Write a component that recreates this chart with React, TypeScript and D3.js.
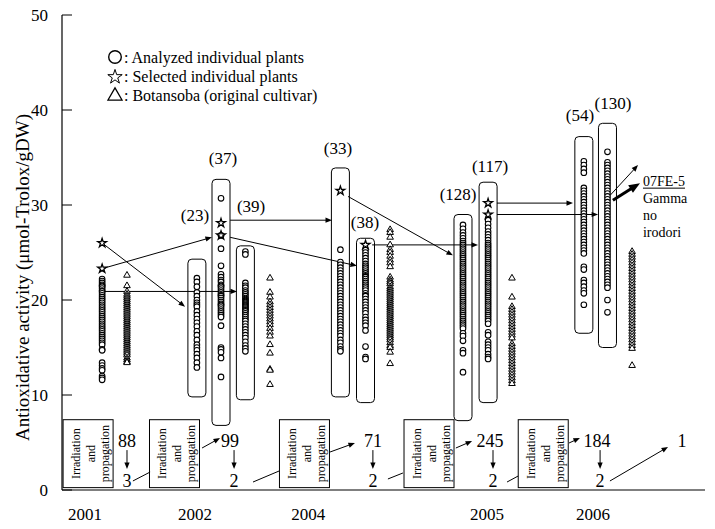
import React, { useEffect, useRef } from 'react';
import * as d3 from 'd3';

const FONT = "'Liberation Serif', 'Times New Roman', Times, 'DejaVu Serif', serif";

// axis
const yTicks = [0, 10, 20, 30, 40, 50];
const years = ['2001', '2002', '2004', '2005', '2006'];
const yearPos = [0.93, 5.4, 10.0, 17.27, 21.57];

// analyzed individual plants (circles), one array per column
const an2001 = [22.2, 22.0, 21.8, 21.6, 21.5, 21.4, 21.2, 21.0, 20.9, 20.7, 20.5, 20.3, 20.1, 19.9, 19.7, 19.5, 19.3, 19.1,
  18.9, 18.7, 18.5, 18.3, 18.1, 17.9, 17.7, 17.5, 17.3, 17.1, 16.9, 16.7, 16.5, 16.3, 16.1, 15.9, 15.7, 15.5, 15.3,
  14.8, 14.7, 13.4, 13.1, 12.8, 12.6, 12.0, 11.8, 11.6];
const an2002a = [22.3, 21.9, 21.4, 20.8, 20.4, 20.0, 19.7, 19.5, 19.3, 18.8, 18.4, 18.0, 17.6, 17.2, 16.7, 16.3, 15.8,
  15.3, 15.0, 14.7, 14.3, 13.9, 13.4, 12.9];
const an2002b = [30.7, 26.8, 25.4, 23.6, 22.7, 22.4, 22.1, 21.9, 21.6, 21.5, 21.4, 21.2, 21.0, 20.8, 20.6, 20.5, 20.4,
  20.2, 20.0, 19.8, 19.6, 19.5, 19.4, 19.2, 19.0, 18.8, 18.6, 18.4, 18.2, 17.3, 15.0, 14.8, 14.5, 13.9, 11.9];
const an2002c = [25.1, 24.8, 21.8, 21.5, 21.3, 21.0, 20.8, 20.6, 20.4, 20.2, 20.1, 20.0, 19.9, 19.8, 19.7, 19.6, 19.5,
  19.4, 19.3, 19.2, 19.1, 19.0, 18.9, 18.8, 18.6, 18.4, 18.2, 18.0, 17.8, 17.5, 17.2, 16.9, 16.6, 16.3, 16.0, 15.6,
  15.2, 14.9, 14.6];
const an2004a = [25.3, 24.0, 23.7, 23.4, 23.1, 22.8, 22.5, 22.2, 21.9, 21.6, 21.3, 21.0, 20.7, 20.4, 20.1, 19.8, 19.5,
  19.2, 18.9, 18.6, 18.3, 18.0, 17.7, 17.4, 17.1, 16.8, 16.5, 16.2, 15.8, 15.5, 15.1, 14.8, 14.6];
const an2004b = [25.3, 25.0, 24.7, 24.4, 24.1, 23.8, 23.6, 23.4, 23.2, 23.0, 22.8, 22.6, 22.5, 22.4, 22.2, 22.0, 21.8,
  21.6, 21.4, 21.2, 21.0, 20.7, 20.5, 20.4, 20.1, 19.8, 19.5, 19.2, 18.9, 18.6, 18.2, 17.9, 17.6, 17.3, 16.8, 15.1,
  14.0, 13.8];
const an2005a = [27.9, 27.5, 27.1, 26.8, 26.5, 26.2, 26.0, 25.8, 25.6, 25.4, 25.2, 25.0, 24.8, 24.6, 24.4, 24.2, 24.0,
  23.8, 23.6, 23.4, 23.2, 23.0, 22.8, 22.6, 22.4, 22.2, 22.0, 21.8, 21.6, 21.4, 21.2, 21.0, 20.8, 20.6, 20.4, 20.2,
  20.0, 19.8, 19.6, 19.4, 19.2, 19.0, 18.8, 18.6, 18.4, 18.2, 18.0, 17.8, 17.6, 17.4, 17.2, 17.0, 16.5, 16.2, 15.7,
  14.7, 14.4, 12.4];
const an2005b = [28.4, 28.0, 27.6, 27.2, 26.9, 26.6, 26.3, 26.0, 25.8, 25.6, 25.4, 25.2, 25.0, 24.8, 24.6, 24.4, 24.2,
  24.0, 23.8, 23.6, 23.4, 23.2, 23.0, 22.8, 22.6, 22.4, 22.2, 22.0, 21.8, 21.6, 21.4, 21.2, 21.0, 20.8, 20.6, 20.4,
  20.2, 20.0, 19.8, 19.6, 19.4, 19.2, 19.0, 18.8, 18.6, 18.4, 18.2, 18.0, 17.8, 17.5, 16.6, 16.3, 15.6, 15.3, 15.0,
  14.7, 14.3, 14.0, 13.8];
const an2006a = [34.6, 34.2, 33.8, 33.4, 31.8, 31.5, 31.2, 30.9, 30.6, 30.3, 30.0, 29.7, 29.4, 29.1, 28.8, 28.5, 28.2,
  27.9, 27.6, 27.3, 27.0, 26.7, 26.4, 26.1, 25.8, 25.5, 25.2, 24.9, 23.5, 23.2, 22.1, 21.8, 21.4, 21.0, 20.7, 19.5];
const an2006b = [35.6, 34.5, 34.2, 33.9, 33.6, 33.3, 33.0, 32.7, 32.4, 32.1, 31.8, 31.5, 31.2, 30.9, 30.6, 30.3, 30.0,
  29.7, 29.4, 29.1, 28.8, 28.5, 28.2, 27.9, 27.6, 27.3, 27.0, 26.7, 26.4, 26.1, 25.8, 25.5, 25.2, 24.9, 24.6, 24.3,
  24.0, 23.7, 23.4, 23.1, 22.8, 22.5, 22.2, 21.9, 21.6, 21.3, 20.0, 18.7];

// Botansoba original cultivar (triangles)
const bo2001 = [22.6, 21.5, 20.9, 20.6, 20.4, 20.2, 20.0, 19.8, 19.6, 19.4, 19.2, 19.0, 18.8, 18.6, 18.4, 18.2, 18.0,
  17.8, 17.6, 17.4, 17.2, 17.0, 16.8, 16.6, 16.4, 16.2, 16.0, 15.8, 15.6, 15.4, 15.2, 15.0, 14.8, 14.6, 14.4, 14.2,
  13.9, 13.7, 13.5, 13.4];
const bo2002 = [22.3, 20.8, 20.3, 19.8, 19.5, 19.2, 18.9, 18.6, 18.3, 18.0, 17.7, 17.4, 17.0, 16.6, 16.2, 15.3, 14.4,
  12.7, 12.6, 11.1];
const bo2004 = [27.4, 27.1, 26.6, 25.8, 25.3, 25.0, 24.6, 24.2, 23.9, 23.5, 22.4, 22.1, 21.9, 21.7, 21.4, 21.2, 21.0,
  20.8, 20.6, 20.4, 20.2, 20.0, 19.8, 19.6, 19.4, 19.2, 19.0, 18.8, 18.6, 18.4, 18.2, 18.0, 17.8, 17.6, 17.4, 17.2,
  17.0, 16.8, 16.6, 16.4, 16.2, 16.0, 15.8, 15.5, 15.2, 15.0, 14.5, 13.3];
const bo2005 = [22.3, 20.3, 19.3, 19.0, 18.7, 18.4, 18.1, 17.8, 17.5, 17.2, 16.9, 16.6, 16.3, 16.0, 15.4, 15.1, 14.8,
  14.5, 14.2, 13.9, 13.6, 13.3, 13.0, 12.7, 12.4, 12.1, 11.8, 11.5, 11.2];
const bo2006 = [25.1, 24.8, 24.5, 24.2, 23.9, 23.6, 23.3, 23.0, 22.7, 22.4, 22.1, 21.8, 21.5, 21.2, 20.9, 20.6, 20.3,
  20.0, 19.7, 19.4, 19.1, 18.8, 18.5, 18.2, 17.9, 17.6, 17.3, 17.0, 16.7, 16.4, 16.1, 15.8, 15.5, 15.2, 14.9, 13.1];

// selected individual plants (stars)
const selectedPos = [1.63, 1.63, 6.46, 6.46, 11.31, 12.33, 17.31, 17.31];
const selectedVal = [26.0, 23.3, 28.1, 26.8, 31.5, 25.8, 30.2, 29.0];

// boxed groups with number of analyzed plants
const groupLabels = ['(23)', '(37)', '(39)', '(33)', '(38)', '(128)', '(117)', '(54)', '(130)'];
const groupPos = [5.48, 6.46, 7.45, 11.31, 12.33, 16.29, 17.31, 21.2, 22.16];
const groupTop = [24.3, 32.7, 25.7, 33.9, 26.5, 29.0, 32.4, 37.2, 38.6];
const groupBottom = [9.8, 6.8, 9.5, 9.8, 9.2, 7.3, 9.2, 16.5, 15.0];
const groupLabelPos = [5.4, 6.54, 7.68, 11.21, 12.31, 16.09, 17.39, 21.04, 22.38];
const groupLabelVal = [28.9, 34.9, 29.8, 35.9, 28.2, 31.1, 34.1, 39.4, 40.7];

// links between selections and next-year groups: [x1, v1, x2, v2]
const links = [
  [1.63, 26.0, 5.0, 19.3],
  [1.63, 23.3, 6.09, 26.6],
  [1.63, 20.9, 7.11, 20.9],
  [6.83, 28.4, 10.97, 28.4],
  [6.83, 26.6, 11.98, 23.6],
  [11.62, 30.9, 15.88, 24.7],
  [12.6, 25.8, 16.9, 25.8],
  [17.67, 30.2, 20.76, 30.2],
  [17.67, 29.0, 21.78, 29.0],
  [22.26, 31.0, 23.4, 34.2],
];
const finalLink = [22.38, 30.5, 23.48, 32.3];
const finalName = ['07FE-5', 'Gamma', 'no', 'irodori'];

// bottom flow: irradiation boxes and plant counts
const boxPos = [1.06, 4.57, 9.85, 14.91, 19.55];
const boxLines = ['Irradiation', 'and', 'propagation'];
const analyzedCounts = ['88', '99', '71', '245', '184', '1'];
const analyzedPos = [2.64, 6.83, 12.63, 17.39, 21.73, 25.19];
const selectedCounts = ['3', '2', '2', '2', '2'];
const selectedCountPos = [2.64, 6.99, 12.63, 17.51, 21.86];
const feedLines = [
  [2.88, 0.95, 3.58, 1.89],
  [7.76, 0.84, 8.82, 2.0],
  [13.24, 1.16, 13.85, 1.79],
  [18.08, 0.84, 18.53, 1.47],
];
const outArrows = [
  [5.69, 4.42, 6.42, 5.47],
  [10.89, 4.0, 11.9, 4.95],
  [16.0, 4.42, 16.66, 5.16],
  [20.6, 4.95, 21.04, 5.47],
  [22.26, 0.95, 24.62, 4.53],
];

const legendItems = [': Analyzed individual plants', ': Selected individual plants', ': Botansoba (original cultivar)'];

const App = () => {
  const svgRef = useRef<SVGSVGElement>(null);

  useEffect(() => {
    const svg = d3.select(svgRef.current);
    svg.selectAll('*').remove();

    const x = d3.scaleLinear().domain([0, 26]).range([62, 702]);
    const y = d3.scaleLinear().domain([0, 50]).range([490, 15]);

    const g = svg.append('g').style('font-family', FONT).attr('fill', '#000');

    // arrow helper
    const arrow = (x1: number, y1: number, x2: number, y2: number, sw = 1, head = 7, withHead = true) => {
      const a = Math.atan2(y2 - y1, x2 - x1);
      const back = withHead ? head * 0.8 : 0;
      g.append('line')
        .attr('x1', x1).attr('y1', y1)
        .attr('x2', x2 - back * Math.cos(a)).attr('y2', y2 - back * Math.sin(a))
        .attr('stroke', '#000').attr('stroke-width', sw);
      if (!withHead) return;
      const s = 0.38;
      g.append('path')
        .attr('d', `M${x2},${y2}L${x2 - head * Math.cos(a - s)},${y2 - head * Math.sin(a - s)}L${x2 - head * Math.cos(a + s)},${y2 - head * Math.sin(a + s)}Z`)
        .attr('fill', '#000');
    };

    // axes
    g.append('line').attr('x1', x(0)).attr('x2', x(0)).attr('y1', y(50)).attr('y2', y(0))
      .attr('stroke', '#000').attr('stroke-width', 1.2);
    g.append('line').attr('x1', x(0)).attr('x2', 705).attr('y1', y(0)).attr('y2', y(0))
      .attr('stroke', '#000').attr('stroke-width', 1.2);
    yTicks.forEach((t) => {
      g.append('line').attr('x1', x(0)).attr('x2', x(0) + 10).attr('y1', y(t)).attr('y2', y(t))
        .attr('stroke', '#000').attr('stroke-width', 1);
      g.append('text').attr('x', 48).attr('y', y(t)).attr('text-anchor', 'end')
        .attr('dominant-baseline', 'central').attr('font-size', 17).text(t);
    });
    years.forEach((yr, i) => {
      g.append('text').attr('x', x(yearPos[i])).attr('y', y(0) + 30).attr('text-anchor', 'middle')
        .attr('font-size', 17).text(yr);
    });
    g.append('text')
      .attr('transform', `translate(22,${(y(50) + y(0)) / 2 + 25}) rotate(-90)`)
      .attr('text-anchor', 'middle').attr('dominant-baseline', 'central')
      .attr('font-size', 19).text('Antioxidative activity (μmol-Trolox/gDW)');

    // legend
    const legendY = [57, 76, 95];
    g.append('circle').attr('cx', 115).attr('cy', legendY[0]).attr('r', 6.3)
      .attr('fill', 'none').attr('stroke', '#000').attr('stroke-width', 1.4);
    g.append('path').attr('d', d3.symbol(d3.symbolStar, 64)()).attr('transform', `translate(115,${legendY[1] + 1})`)
      .attr('fill', 'none').attr('stroke', '#000').attr('stroke-width', 1);
    g.append('path').attr('d', d3.symbol(d3.symbolTriangle, 85)()).attr('transform', `translate(115,${legendY[2] + 1})`)
      .attr('fill', 'none').attr('stroke', '#000').attr('stroke-width', 1.3);
    legendItems.forEach((t, i) => {
      g.append('text').attr('x', 124).attr('y', legendY[i]).attr('dominant-baseline', 'central')
        .attr('font-size', 16).text(t);
    });

    // group boxes and labels
    groupLabels.forEach((lab, i) => {
      g.append('rect')
        .attr('x', x(groupPos[i]) - 9).attr('width', 18)
        .attr('y', y(groupTop[i])).attr('height', y(groupBottom[i]) - y(groupTop[i]))
        .attr('rx', 4).attr('fill', 'none').attr('stroke', '#000').attr('stroke-width', 1);
      g.append('text').attr('x', x(groupLabelPos[i])).attr('y', y(groupLabelVal[i]))
        .attr('text-anchor', 'middle').attr('dominant-baseline', 'central')
        .attr('font-size', 17).text(lab);
    });

    // links
    links.forEach(([a, b, c, d]) => arrow(x(a), y(b), x(c), y(d)));
    arrow(x(finalLink[0]), y(finalLink[1]), x(finalLink[2]), y(finalLink[3]), 3, 12);

    // points
    const circleCols: [number, number[]][] = [
      [1.63, an2001], [5.48, an2002a], [6.46, an2002b], [7.45, an2002c],
      [11.31, an2004a], [12.33, an2004b], [16.29, an2005a], [17.31, an2005b],
      [21.2, an2006a], [22.16, an2006b],
    ];
    const triCols: [number, number[]][] = [
      [2.64, bo2001], [8.45, bo2002], [13.33, bo2004], [18.28, bo2005], [23.16, bo2006],
    ];
    circleCols.forEach(([pos, vals]) => {
      g.append('g').selectAll('circle').data(vals).enter().append('circle')
        .attr('cx', x(pos)).attr('cy', (d) => y(d)).attr('r', 2.8)
        .attr('fill', '#fff').attr('stroke', '#000').attr('stroke-width', 1.1);
    });
    const tri = d3.symbol(d3.symbolTriangle, 19)();
    triCols.forEach(([pos, vals]) => {
      g.append('g').selectAll('path').data(vals).enter().append('path')
        .attr('d', tri).attr('transform', (d) => `translate(${x(pos)},${y(d)})`)
        .attr('fill', '#fff').attr('stroke', '#000').attr('stroke-width', 1);
    });
    const star = d3.symbol(d3.symbolStar, 24)();
    selectedPos.forEach((p, i) => {
      g.append('path').attr('d', star).attr('transform', `translate(${x(p)},${y(selectedVal[i])})`)
        .attr('fill', '#fff').attr('stroke', '#000').attr('stroke-width', 1.3);
    });

    // final cultivar label
    const fx = x(finalLink[2]) + 3;
    const fy = y(finalLink[3]);
    finalName.forEach((t, i) => {
      g.append('text').attr('x', fx).attr('y', fy + 3 + i * 17).attr('font-size', 14).text(t);
    });
    g.append('line').attr('x1', fx).attr('x2', fx + 42).attr('y1', fy + 5).attr('y2', fy + 5)
      .attr('stroke', '#000').attr('stroke-width', 1);

    // bottom flow
    boxPos.forEach((p) => {
      const cx = x(p);
      const top = y(7.4);
      const bot = y(0.25);
      g.append('rect').attr('x', cx - 25).attr('width', 50).attr('y', top).attr('height', bot - top)
        .attr('fill', '#fff').attr('stroke', '#000').attr('stroke-width', 1);
      boxLines.forEach((t, j) => {
        g.append('text')
          .attr('transform', `translate(${cx - 12 + j * 14.5},${(top + bot) / 2}) rotate(-90)`)
          .attr('text-anchor', 'middle').attr('dominant-baseline', 'central')
          .attr('font-size', 12).text(t);
      });
    });
    analyzedCounts.forEach((t, i) => {
      g.append('text').attr('x', x(analyzedPos[i])).attr('y', y(4.5)).attr('text-anchor', 'middle')
        .attr('font-size', 18).text(t);
    });
    selectedCounts.forEach((t, i) => {
      g.append('text').attr('x', x(selectedCountPos[i])).attr('y', y(0.3)).attr('text-anchor', 'middle')
        .attr('font-size', 18).text(t);
      arrow(x(selectedCountPos[i]), y(4.2), x(selectedCountPos[i]), y(2.2), 1, 7);
    });
    feedLines.forEach(([a, b, c, d]) => arrow(x(a), y(b), x(c), y(d), 1, 7, false));
    outArrows.forEach(([a, b, c, d]) => arrow(x(a), y(b), x(c), y(d), 1, 7));
  }, []);

  return (
    <svg ref={svgRef} width={715} height={529}
      style={{ position: 'absolute', left: 0, top: 0, background: '#fff', fontFamily: FONT }} />
  );
};

export default App;
